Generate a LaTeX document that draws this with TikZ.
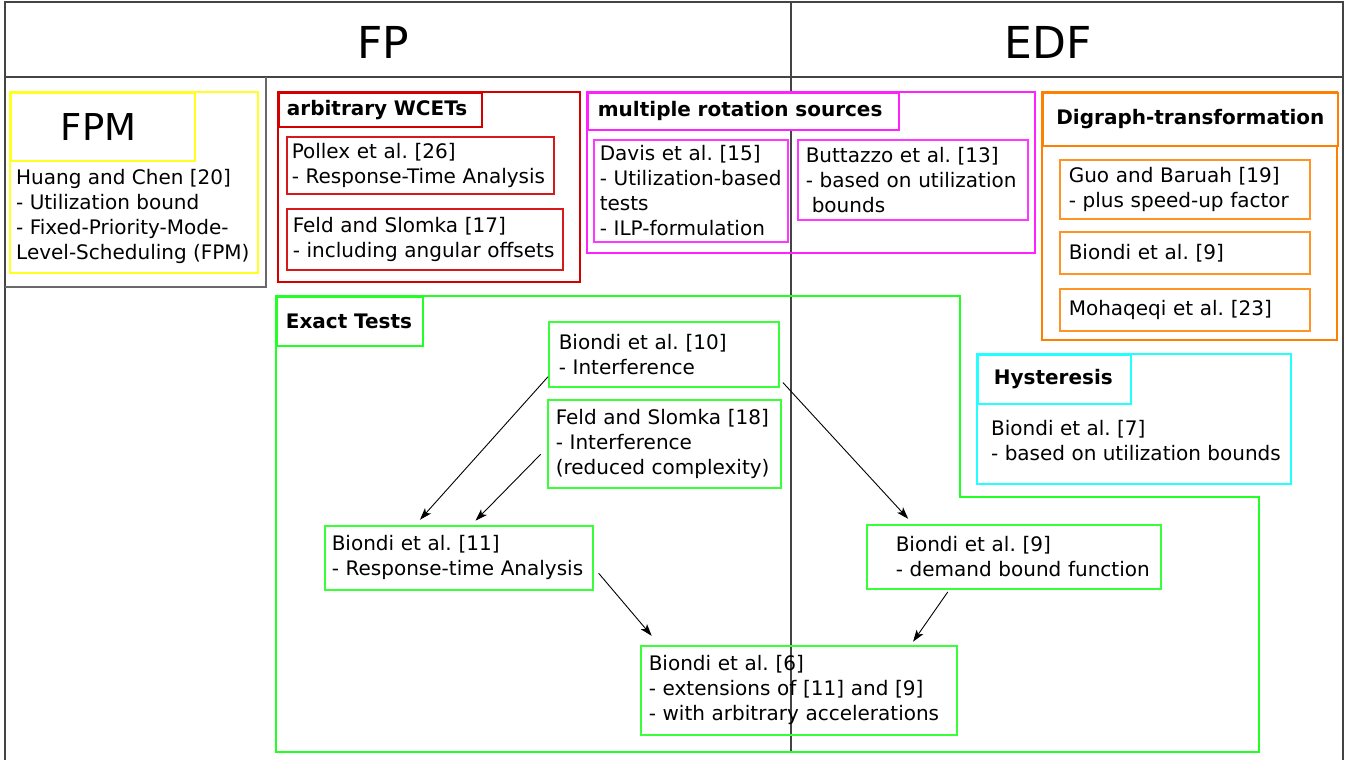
\documentclass[tikz,border=0pt]{standalone}
\usepackage{fontspec}
\setmainfont{DejaVu Sans}
\usetikzlibrary{arrows.meta}
\frenchspacing
\hyphenpenalty=10000

\definecolor{framegray}{HTML}{444444}
\definecolor{fpmyellow}{HTML}{FFFF22}
\definecolor{wcetred}{HTML}{D40000}
\definecolor{rotmagenta}{HTML}{FF22FF}
\definecolor{digorange}{HTML}{FF8000}
\definecolor{hystcyan}{HTML}{22FFFF}
\definecolor{exactgreen}{HTML}{22FF22}

\begin{document}
\begin{tikzpicture}[
  x=1pt, y=-1pt,
  colframe/.style={draw=framegray, line width=1.6pt},
  group/.style={draw=#1, line width=1.8pt},
  heading/.style={draw=#1, line width=1.8pt, fill=white, anchor=north west, align=left,
    inner ysep=0pt, font=\fontsize{20}{25}\selectfont\bfseries},
  paper/.style={draw=#1, line width=1.5pt, anchor=north west, align=left,
    inner ysep=0pt, font=\fontsize{20}{25}\selectfont},
  note/.style={anchor=west, align=left, inner sep=0pt, font=\fontsize{20}{25}\selectfont},
  link/.style={-{Stealth[length=12pt,width=8pt,inset=3pt]}, line width=0.9pt}
]
\useasboundingbox (0,0) rectangle (1352,760);

% Frame with the two columns
\draw[colframe] (5,760) -- (5,2) -- (1343,2) -- (1343,760);
\draw[colframe] (5,77) -- (1343,77);
\draw[colframe] (791,2) -- (791,752);
\node[font=\fontsize{44}{48}\selectfont] (fp) at (383,42) {FP};
\node[font=\fontsize{44}{48}\selectfont] (edf) at (1048,42) {EDF};

% FPM
\draw[colframe, draw=framegray!80] (5,287) -- (266,287) -- (266,77);
\draw[group=fpmyellow] (10,92) rectangle (258,273);
\node[draw=fpmyellow, line width=1.8pt, anchor=north west, minimum width=184pt,
  minimum height=68pt, align=left, text width=140pt, inner xsep=22pt,
  font=\fontsize{37}{40}\selectfont] (fpm) at (10,92) {\hspace*{28pt}FPM};
\node[note] (huang) at (16,216) {Huang and Chen [20]\\- Utilization bound\\- Fixed-Priority-Mode-\\Level-Scheduling (FPM)};

% arbitrary WCETs
\draw[group=wcetred] (278,92) rectangle (580,282);
\node[heading=wcetred, inner xsep=8pt, text width=187pt, minimum height=34pt] (wcet) at (278,92) {arbitrary WCETs};
\node[paper=wcetred!90, inner xsep=5pt, text width=257pt, minimum height=57pt] (pollex) at (286,136) {Pollex et al. [26]\\- Response-Time Analysis};
\node[paper=wcetred!90, inner xsep=6pt, text width=264pt, minimum height=61pt] (feld17) at (286,208) {Feld and Slomka [17]\\- including angular offsets};

% multiple rotation sources
\draw[group=rotmagenta] (587,92) rectangle (1035,253);
\node[heading=rotmagenta, inner xsep=10pt, text width=291pt, minimum height=37pt] (rotation) at (587,92) {multiple rotation sources};
\node[paper=rotmagenta!90, inner xsep=6pt, text width=182pt, minimum height=102pt] (davis) at (593,139) {Davis et al. [15]\\- Utilization-based\\tests\\- ILP-formulation};
\node[paper=rotmagenta!90, inner xsep=8pt, text width=214pt, minimum height=80pt] (buttazzo) at (797,139) {Buttazzo et al. [13]\\- based on utilization\\\hspace*{6pt}bounds};

% Digraph-transformation
\draw[group=digorange] (1042,92) rectangle (1337,340);
\node[heading=digorange, align=center, minimum width=295pt, minimum height=53pt] (digraph) at (1042,92) {Digraph-transformation};
\node[paper=digorange!85, inner xsep=9pt, text width=232pt, minimum height=59pt] (guo) at (1059,159) {Guo and Baruah [19]\\- plus speed-up factor};
\node[paper=digorange!85, inner xsep=9pt, text width=232pt, minimum height=42pt] (biondi9a) at (1059,231) {Biondi et al. [9]};
\node[paper=digorange!85, inner xsep=9pt, text width=232pt, minimum height=42pt] (mohaqeqi) at (1059,288) {Mohaqeqi et al. [23]};

% Hysteresis
\draw[group=hystcyan] (977,354) rectangle (1291,484);
\node[heading=hystcyan, inner xsep=16pt, text width=121pt, minimum height=49pt] (hysteresis) at (977,354) {Hysteresis};
\node[note] (biondi7) at (991,441) {Biondi et al. [7]\\- based on utilization bounds};

% Exact tests
\draw[group=exactgreen] (276,296) -- (960,296) -- (960,497) -- (1259,497) -- (1259,752) -- (276,752) -- cycle;
\node[heading=exactgreen, inner xsep=9pt, text width=128pt, minimum height=49pt] (exact) at (276,296) {Exact Tests};
\node[paper=exactgreen!90, inner xsep=10pt, text width=210pt, minimum height=65pt] (biondi10) at (548,321) {Biondi et al. [10]\\- Interference};
\node[paper=exactgreen!90, inner xsep=8pt, text width=217pt, minimum height=88pt] (feld18) at (547,399) {Feld and Slomka [18]\\- Interference\\(reduced complexity)};
\node[paper=exactgreen!90, inner xsep=7pt, text width=254pt, minimum height=64pt] (biondi11) at (324,525) {Biondi et al. [11]\\- Response-time Analysis};
\node[paper=exactgreen!90, inner xsep=10pt, text width=274pt, minimum height=64pt] (biondi9b) at (866,524) {\hspace*{19pt}Biondi et al. [9]\\\hspace*{19pt}- demand bound function};
\node[paper=exactgreen!90, inner xsep=8pt, text width=300pt, minimum height=89pt] (biondi6) at (640,645) {Biondi et al. [6]\\- extensions of [11] and [9]\\- with arbitrary accelerations};

% Dependencies between the exact tests
\draw[link, shorten >=7pt] (biondi10.191) -- (biondi11.143);
\draw[link, shorten <=9pt, shorten >=6pt] (feld18.182) -- (biondi11.69);
\draw[link, shorten <=5pt, shorten >=7pt] (biondi10.348) -- (biondi9b.162);
\draw[link, shorten <=8pt, shorten >=12pt] (biondi11.356) -- (biondi6.162);
\draw[link, shorten <=3pt, shorten >=4pt] (biondi9b.207) -- (biondi6.22);

\end{tikzpicture}
\end{document}
